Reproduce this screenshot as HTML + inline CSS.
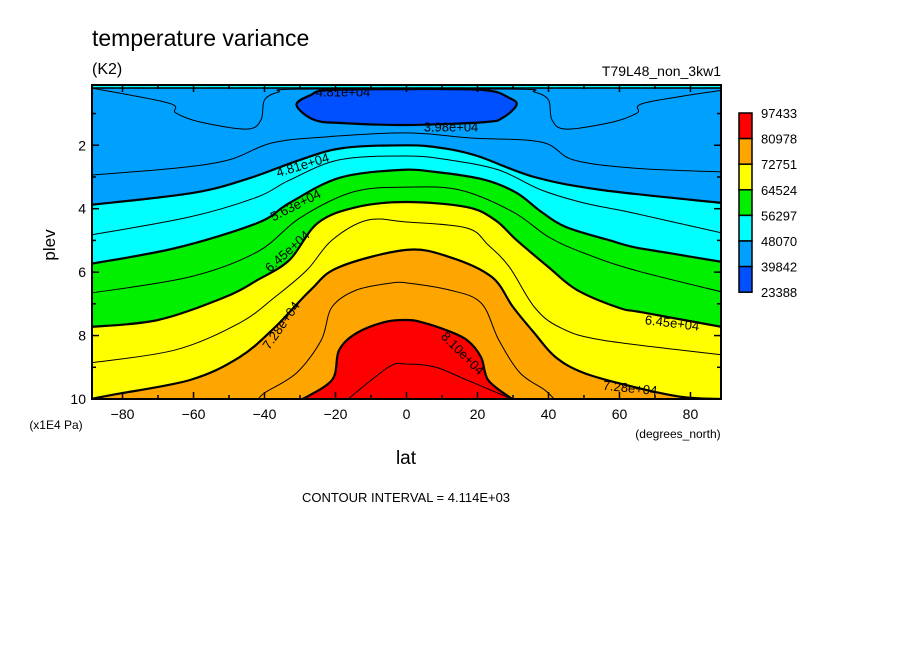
<!DOCTYPE html>
<html><head><meta charset="utf-8"><style>
body{margin:0;background:#fff;}
svg text{font-family:"Liberation Sans",sans-serif;fill:#000;}
</style></head><body>
<svg id="c" width="904" height="654" xmlns="http://www.w3.org/2000/svg">
<rect width="904" height="654" fill="#fff"/>
<defs><clipPath id="pc"><rect x="92" y="85" width="629" height="314"/></clipPath></defs>
<g id="plot" clip-path="url(#pc)"></g>
<g id="ov"></g>
<text x="92" y="46" font-size="23">temperature variance</text>
<text x="92" y="74" font-size="16">(K2)</text>
<text x="721" y="76" font-size="14" text-anchor="end">T79L48_non_3kw1</text>
<text x="406" y="464" font-size="19" text-anchor="middle">lat</text>
<text x="678" y="438" font-size="12" text-anchor="middle">(degrees_north)</text>
<text transform="translate(55,245) rotate(-90)" font-size="17" text-anchor="middle">plev</text>
<text x="56" y="429" font-size="12" text-anchor="middle">(x1E4 Pa)</text>
<text x="406" y="502" font-size="13" text-anchor="middle">CONTOUR INTERVAL = 4.114E+03</text>
</svg>
<script>
const bandColors=["#0050ff","#00a0ff","#00ffff","#00f000","#ffff00","#ffa500","#ff0000"];
const legendLabels=["97433","80978","72751","64524","56297","48070","39842","23388"];
const xTicks=[-80,-60,-40,-20,0,20,40,60,80];
const yTicks=[2,4,6,8,10];
const b48070Lat=[-89,-60,-44,-30,-18,0,10,20,36,55,89];
const b48070Lev=[3.88,3.50,3.03,2.46,2.09,2.00,2.09,2.34,3.00,3.41,3.82];
const b56297Lat=[-89,-65,-42,-33,-19,-2,8,22,31,38,45,57,64,74,89];
const b56297Lev=[5.74,5.24,4.45,3.82,3.03,2.78,2.84,3.09,3.50,4.10,4.58,4.99,5.21,5.40,5.68];
const b64524Lat=[-89,-70,-51,-42,-33,-25,-14,0,17,25,31,40,48,60,66,89];
const b64524Lev=[7.73,7.51,6.78,6.25,5.62,4.45,3.95,3.79,3.95,4.36,4.99,5.84,6.56,7.13,7.26,7.73];
const b72751Lat=[-89,-83,-61,-47,-37,-27,-19,0,12,24,30,36,42,50,64,78,89];
const b72751Lev=[10.0,9.87,9.40,8.68,7.73,6.56,5.84,5.30,5.52,6.15,7.10,7.92,8.68,9.18,9.62,9.94,10.0];
const b80978Lat=[-30,-21,-19,-14,-6,0,4,11,17,21,23,29,31];
const b80978Lev=[10.05,9.40,8.46,7.92,7.57,7.51,7.57,7.82,8.14,8.68,9.40,9.94,10.05];
const islandLat=[-31,-27,-22,0,22,29,31,27,22,0,-18,-26];
const islandLev=[0.73,0.42,0.26,0.23,0.26,0.51,0.73,1.14,1.27,1.36,1.30,1.20];
const t43956aLat=[-89,-67,-65,-58,-45,-41,-40,-36,-30,30,36,40,41,45,58,65,67,89];
const t43956aLev=[0.19,0.67,0.98,1.27,1.49,1.20,0.57,0.32,0.23,0.23,0.32,0.57,1.20,1.49,1.27,0.98,0.67,0.26];
const t43956bLat=[-89,-65,-50,-38,-23,0,18,38,47,64,89];
const t43956bLev=[2.94,2.72,2.46,1.93,1.74,1.61,1.77,1.90,2.46,2.72,2.84];
const t52183Lat=[-89,-61,-42,-33,-19,0,12,26,38,50,64,89];
const t52183Lev=[4.83,4.26,3.63,3.10,2.46,2.34,2.46,2.78,3.41,3.82,4.14,4.77];
const t60410Lat=[-89,-61,-42,-30,-15,0,15,30,40,50,64,89];
const t60410Lev=[6.66,6.15,5.36,4.29,3.47,3.32,3.41,4.10,4.89,5.40,5.93,6.63];
const t68637Lat=[-89,-65,-47,-37,-28,-21,-11,0,17,23,29,36,43,55,89];
const t68637Lev=[8.86,8.45,7.60,6.78,5.93,4.99,4.36,4.42,4.61,5.14,5.84,7.10,7.73,8.14,8.61];
const t76864Lat=[-42,-40,-31,-24,-21,-14,-4,0,12,21,26,32,39,42];
const t76864Lev=[10.05,9.81,9.18,8.14,7.10,6.56,6.34,6.34,6.56,6.97,8.14,9.18,9.72,10.05];
const t85091Lat=[-17,-5,0,8,17,29];
const t85091Lev=[10.05,8.99,8.90,8.99,9.40,9.97];

const X0=92,X1=721,Y0=85,Y1=399,LAT0=-88.6,LAT1=88.6,P0=0.1,P1=10;
const xs=v=>X0+(v-LAT0)/(LAT1-LAT0)*(X1-X0);
const ys=v=>Y0+(v-P0)/(P1-P0)*(Y1-Y0);
const NS="http://www.w3.org/2000/svg";
const plotG=document.getElementById('plot'),ovG=document.getElementById('ov');
function mk(tag,at,parent){const e=document.createElementNS(NS,tag);for(const k in at)e.setAttribute(k,at[k]);parent.appendChild(e);return e;}
function pts(la,lv){return la.map((a,i)=>[xs(a),ys(lv[i])]);}
function cr(p,closed){
  let d="M"+p[0][0].toFixed(1)+","+p[0][1].toFixed(1);const n=p.length;
  const g=i=>closed?p[(i+n)%n]:p[Math.max(0,Math.min(n-1,i))];
  const m=closed?n:n-1;
  for(let i=0;i<m;i++){const a=g(i-1),b=g(i),c=g(i+1),e=g(i+2);
    d+=`C${(b[0]+(c[0]-a[0])/6).toFixed(1)},${(b[1]+(c[1]-a[1])/6).toFixed(1)} ${(c[0]-(e[0]-b[0])/6).toFixed(1)},${(c[1]-(e[1]-b[1])/6).toFixed(1)} ${c[0].toFixed(1)},${c[1].toFixed(1)}`;}
  return closed?d+"Z":d;
}
const baseRect=mk('rect',{x:X0,y:Y0,width:X1-X0,height:Y1-Y0,fill:bandColors[1]},plotG);


const topStrip=mk('rect',{x:X0,y:Y0,width:X1-X0,height:3,fill:bandColors[2]},plotG);


const fills=[[b48070Lat,b48070Lev,2,'band-48070-56297'],[b56297Lat,b56297Lev,3,'band-56297-64524'],[b64524Lat,b64524Lev,4,'band-64524-72751'],[b72751Lat,b72751Lev,5,'band-72751-80978'],[b80978Lat,b80978Lev,6,'band-80978-97433']];
fills.forEach(f=>{const p=pts(f[0],f[1]);const last=p[p.length-1];
  const d=cr(p,false)+`L${last[0]},${Y1+10}L${p[0][0]},${Y1+10}Z`;
  const e=mk('path',{d:d,fill:bandColors[f[2]]},plotG);
  
  });
const thin=[[t43956aLat,t43956aLev,'contour-43956-upper'],[t43956bLat,t43956bLev,'contour-43956-lower'],[t52183Lat,t52183Lev,'contour-52183'],[t60410Lat,t60410Lev,'contour-60410'],[t68637Lat,t68637Lev,'contour-68637'],[t76864Lat,t76864Lev,'contour-76864'],[t85091Lat,t85091Lev,'contour-85091']];
thin.forEach(t=>{const e=mk('path',{d:cr(pts(t[0],t[1]),false),fill:'none',stroke:'#000','stroke-width':1},plotG);
  
  });
const isl=mk('path',{d:cr(pts(islandLat,islandLev),true),fill:bandColors[0],stroke:'#000','stroke-width':2.2},plotG);


const thick=[[b48070Lat,b48070Lev,'contour-48070'],[b56297Lat,b56297Lev,'contour-56297'],[b64524Lat,b64524Lev,'contour-64524'],[b72751Lat,b72751Lev,'contour-72751'],[b80978Lat,b80978Lev,'contour-80978']];
thick.forEach(t=>{const e=mk('path',{d:cr(pts(t[0],t[1]),false),fill:'none',stroke:'#000','stroke-width':2.2},plotG);
  
  });
const topLine=mk('line',{x1:X0,y1:Y0+3,x2:X1,y2:Y0+3,stroke:'#000','stroke-width':1.5},plotG);


const cl=[["4.81e+04",343,93,0],["3.98e+04",451,128,0],["4.81e+04",303,166,-17],["5.63e+04",296,206,-27],["6.45e+04",288,252,-42],["7.28e+04",282,326,-55],["8.10e+04",462,354,45],["6.45e+04",672,324,7],["7.28e+04",630,389,6]];
cl.forEach(c=>{const e=mk('text',{x:c[1],y:c[2],'font-size':13,'text-anchor':'middle','dominant-baseline':'middle',transform:`rotate(${c[3]} ${c[1]} ${c[2]})`},ovG);e.textContent=c[0];
  
  });
const frameRect=mk('rect',{x:X0,y:Y0,width:X1-X0,height:Y1-Y0,fill:'none',stroke:'#000','stroke-width':2},ovG);


for(let v=-80;v<=80;v+=10){const len=v%20===0?7:4;
  mk('line',{x1:xs(v),y1:Y1,x2:xs(v),y2:Y1-len,stroke:'#000','stroke-width':1.5},ovG);
  mk('line',{x1:xs(v),y1:Y0,x2:xs(v),y2:Y0+len,stroke:'#000','stroke-width':1.5},ovG);}
for(let v=1;v<=9;v++){const len=v%2===0?7:4;
  mk('line',{x1:X0,y1:ys(v),x2:X0+len,y2:ys(v),stroke:'#000','stroke-width':1.5},ovG);
  mk('line',{x1:X1,y1:ys(v),x2:X1-len,y2:ys(v),stroke:'#000','stroke-width':1.5},ovG);}
xTicks.forEach(v=>{const e=mk('text',{x:xs(v),y:419,'font-size':14,'text-anchor':'middle'},ovG);e.textContent=(v<0?'\u2212':'')+Math.abs(v);
  
  });
yTicks.forEach(v=>{const e=mk('text',{x:86,y:ys(v)+5,'font-size':14,'text-anchor':'end'},ovG);e.textContent=v;
  
  });
const LY=113,LH=25.6;
for(let i=0;i<7;i++){const e=mk('rect',{x:739,y:LY+i*LH,width:13,height:LH,fill:bandColors[6-i],stroke:'#000','stroke-width':1.5},ovG);
  
  }
legendLabels.forEach((t,i)=>{const e=mk('text',{x:761,y:LY+i*LH+5,'font-size':13},ovG);e.textContent=t;
  
  });
</script>
</body></html>
